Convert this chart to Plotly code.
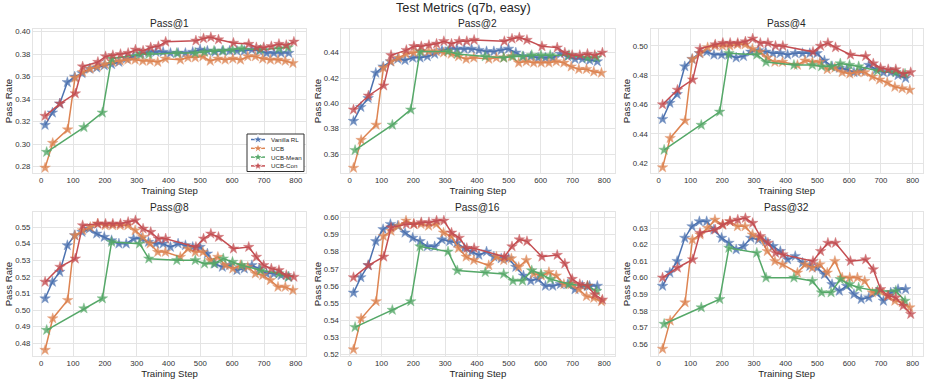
import plotly.graph_objects as go

# ---------------- data ----------------
steps_vanilla = [12, 35, 58, 82, 105, 128, 151, 174, 198, 221, 244, 267, 290, 314, 337, 360, 383,
                 406, 430, 453, 476, 499, 522, 546, 569, 592, 615, 638, 662, 685, 708, 731, 754, 778]
steps_ucb = [12, 36, 83, 106, 130, 154, 177, 201, 224, 248, 272, 295, 319, 342, 366, 390,
             437, 461, 484, 508, 531, 555, 578, 602, 626, 649, 673, 696, 720, 744, 767, 791]
steps_mean = [17, 134, 192, 221, 309, 338, 426, 484, 513, 543, 572, 601, 630, 689, 747, 776]
steps_con = [12, 59, 107, 130, 178, 202, 225, 249, 273, 296, 320, 344, 368, 391,
             486, 510, 533, 557, 604, 652, 676, 699, 723, 747, 770, 794]

# Pass@1
p1_vanilla = [0.317, 0.328, 0.336, 0.355, 0.360, 0.363, 0.367, 0.368, 0.370, 0.371, 0.373, 0.376, 0.378, 0.380,
              0.382, 0.382, 0.382, 0.381, 0.381, 0.381, 0.382, 0.384, 0.383, 0.382, 0.383, 0.383, 0.383, 0.383,
              0.384, 0.383, 0.381, 0.381, 0.381, 0.381]
p1_ucb = [0.279, 0.301, 0.313, 0.359, 0.364, 0.367, 0.369, 0.371, 0.373, 0.374, 0.375, 0.375, 0.374, 0.374, 0.373,
          0.376, 0.375, 0.377, 0.377, 0.378, 0.374, 0.376, 0.375, 0.376, 0.375, 0.378, 0.378, 0.376, 0.375, 0.375,
          0.374, 0.372]
p1_mean = [0.293, 0.315, 0.328, 0.376, 0.380, 0.380, 0.381, 0.381, 0.382, 0.383, 0.383, 0.384, 0.385, 0.384,
           0.385, 0.386]
p1_con = [0.325, 0.336, 0.345, 0.369, 0.373, 0.378, 0.379, 0.380, 0.381, 0.384, 0.383, 0.386, 0.387, 0.391,
          0.392, 0.394, 0.395, 0.393, 0.390, 0.389, 0.386, 0.386, 0.387, 0.389, 0.388, 0.391]

# Pass@2
p2_vanilla = [0.386, 0.397, 0.404, 0.424, 0.429, 0.433, 0.435, 0.434, 0.436, 0.436, 0.437, 0.439, 0.442, 0.443,
              0.443, 0.443, 0.443, 0.442, 0.441, 0.441, 0.442, 0.443, 0.440, 0.437, 0.437, 0.436, 0.436, 0.436,
              0.439, 0.437, 0.435, 0.435, 0.434, 0.433]
p2_ucb = [0.349, 0.371, 0.383, 0.428, 0.433, 0.436, 0.439, 0.440, 0.441, 0.441, 0.441, 0.440, 0.439, 0.437, 0.435,
          0.436, 0.435, 0.436, 0.436, 0.437, 0.432, 0.433, 0.432, 0.432, 0.432, 0.433, 0.432, 0.429, 0.427, 0.427,
          0.425, 0.424]
p2_mean = [0.363, 0.383, 0.395, 0.441, 0.441, 0.439, 0.437, 0.436, 0.437, 0.437, 0.438, 0.438, 0.438, 0.438,
           0.436, 0.436]
p2_con = [0.395, 0.406, 0.414, 0.438, 0.442, 0.445, 0.445, 0.446, 0.447, 0.449, 0.447, 0.449, 0.449, 0.450,
          0.449, 0.451, 0.452, 0.450, 0.445, 0.444, 0.440, 0.438, 0.438, 0.439, 0.438, 0.440]

# Pass@4
p4_vanilla = [0.450, 0.461, 0.467, 0.486, 0.491, 0.495, 0.496, 0.494, 0.494, 0.494, 0.492, 0.493, 0.496, 0.497,
              0.496, 0.495, 0.495, 0.494, 0.495, 0.495, 0.495, 0.495, 0.490, 0.486, 0.485, 0.484, 0.482, 0.483,
              0.487, 0.484, 0.482, 0.482, 0.480, 0.478]
p4_ucb = [0.417, 0.437, 0.449, 0.491, 0.495, 0.499, 0.500, 0.500, 0.500, 0.501, 0.501, 0.498, 0.496, 0.492, 0.489,
          0.489, 0.487, 0.490, 0.489, 0.489, 0.484, 0.485, 0.482, 0.481, 0.482, 0.482, 0.479, 0.477, 0.475, 0.472,
          0.471, 0.470]
p4_mean = [0.429, 0.446, 0.455, 0.495, 0.494, 0.489, 0.487, 0.487, 0.486, 0.486, 0.488, 0.487, 0.486, 0.483,
           0.482, 0.481]
p4_con = [0.460, 0.470, 0.477, 0.498, 0.501, 0.502, 0.502, 0.502, 0.503, 0.505, 0.502, 0.502, 0.500, 0.500,
          0.496, 0.500, 0.502, 0.499, 0.494, 0.493, 0.488, 0.485, 0.484, 0.484, 0.481, 0.482]

# Pass@8
p8_vanilla = [0.507, 0.517, 0.523, 0.539, 0.545, 0.547, 0.549, 0.546, 0.544, 0.542, 0.540, 0.540, 0.543, 0.543,
              0.541, 0.540, 0.540, 0.538, 0.540, 0.539, 0.538, 0.538, 0.534, 0.528, 0.526, 0.527, 0.524, 0.525,
              0.527, 0.525, 0.522, 0.522, 0.521, 0.520]
p8_ucb = [0.476, 0.495, 0.506, 0.545, 0.548, 0.550, 0.552, 0.551, 0.551, 0.551, 0.551, 0.548, 0.544, 0.540, 0.535,
          0.535, 0.532, 0.537, 0.535, 0.535, 0.530, 0.532, 0.527, 0.525, 0.527, 0.526, 0.522, 0.521, 0.518, 0.514,
          0.514, 0.512]
p8_mean = [0.488, 0.501, 0.507, 0.541, 0.540, 0.531, 0.530, 0.530, 0.528, 0.528, 0.531, 0.529, 0.527, 0.524,
           0.522, 0.520]
p8_con = [0.517, 0.526, 0.531, 0.551, 0.552, 0.552, 0.552, 0.552, 0.553, 0.554, 0.549, 0.547, 0.543, 0.543,
          0.538, 0.543, 0.546, 0.544, 0.537, 0.538, 0.532, 0.527, 0.525, 0.524, 0.521, 0.520]

# Pass@16
p16_vanilla = [0.556, 0.565, 0.572, 0.586, 0.593, 0.596, 0.595, 0.591, 0.588, 0.586, 0.583, 0.583, 0.587, 0.586,
               0.585, 0.582, 0.580, 0.578, 0.580, 0.577, 0.576, 0.576, 0.571, 0.566, 0.563, 0.564, 0.560, 0.560,
               0.561, 0.561, 0.558, 0.560, 0.560, 0.560]
p16_ucb = [0.523, 0.541, 0.551, 0.589, 0.592, 0.595, 0.598, 0.596, 0.596, 0.595, 0.596, 0.591, 0.589, 0.582,
           0.577, 0.575, 0.572, 0.577, 0.575, 0.576, 0.571, 0.575, 0.567, 0.566, 0.568, 0.566, 0.561, 0.561, 0.558,
           0.554, 0.553, 0.551]
p16_mean = [0.536, 0.546, 0.551, 0.583, 0.580, 0.569, 0.568, 0.567, 0.563, 0.563, 0.569, 0.567, 0.564, 0.561,
            0.560, 0.557]
p16_con = [0.565, 0.572, 0.577, 0.594, 0.596, 0.596, 0.597, 0.597, 0.598, 0.598, 0.591, 0.588, 0.582, 0.582,
           0.577, 0.583, 0.587, 0.586, 0.577, 0.578, 0.573, 0.564, 0.561, 0.560, 0.555, 0.552]

# Pass@32
p32_vanilla = [0.595, 0.603, 0.610, 0.624, 0.631, 0.634, 0.634, 0.629, 0.624, 0.621, 0.617, 0.619, 0.624, 0.623,
               0.622, 0.619, 0.616, 0.611, 0.613, 0.609, 0.607, 0.606, 0.602, 0.596, 0.592, 0.595, 0.590, 0.587,
               0.588, 0.591, 0.586, 0.591, 0.593, 0.593]
p32_ucb = [0.557, 0.574, 0.585, 0.623, 0.626, 0.630, 0.635, 0.632, 0.634, 0.631, 0.631, 0.626, 0.624, 0.616,
           0.610, 0.608, 0.603, 0.608, 0.606, 0.608, 0.603, 0.610, 0.600, 0.600, 0.600, 0.598, 0.591, 0.592, 0.589,
           0.586, 0.585, 0.582]
p32_mean = [0.572, 0.582, 0.587, 0.618, 0.615, 0.600, 0.600, 0.598, 0.591, 0.591, 0.599, 0.596, 0.594, 0.592,
            0.592, 0.586]
p32_con = [0.600, 0.606, 0.611, 0.627, 0.629, 0.632, 0.634, 0.635, 0.636, 0.633, 0.625, 0.621, 0.615, 0.614,
           0.610, 0.616, 0.621, 0.621, 0.610, 0.611, 0.605, 0.593, 0.589, 0.588, 0.583, 0.578]

panel_titles = ["Pass@1", "Pass@2", "Pass@4", "Pass@8", "Pass@16", "Pass@32"]
method_names = ["Vanilla RL", "UCB", "UCB-Mean", "UCB-Con"]
x_ticks = [0, 100, 200, 300, 400, 500, 600, 700, 800]

# ---------------- styling ----------------
W, H = 927, 382
colors = ["#4C72B0", "#DD8452", "#55A868", "#C44E52"]
FONT = "Liberation Sans, Arial, sans-serif"
TXT = "#262626"

panels = [
    (p1_vanilla, p1_ucb, p1_mean, p1_con),
    (p2_vanilla, p2_ucb, p2_mean, p2_con),
    (p4_vanilla, p4_ucb, p4_mean, p4_con),
    (p8_vanilla, p8_ucb, p8_mean, p8_con),
    (p16_vanilla, p16_ucb, p16_mean, p16_con),
    (p32_vanilla, p32_ucb, p32_mean, p32_con),
]
steps_all = [steps_vanilla, steps_ucb, steps_mean, steps_con]

# pixel layout of plot areas (left, right) / (top, bottom)
cols_px = [(33, 306), (341.4, 614.5), (650.5, 922.8)]
rows_px = [(29, 173), (212.3, 356)]
y_ranges = [(0.2744, 0.4024), (0.3450, 0.4587), (0.4132, 0.5116),
            (0.4724, 0.5589), (0.5192, 0.6029), (0.5527, 0.6395)]
y_dticks = [0.02, 0.02, 0.02, 0.01, 0.01, 0.01]
GRID = "#e4e4e4"

fig = go.Figure()
layout = dict(width=W, height=H, margin=dict(l=0, r=0, t=0, b=0),
              plot_bgcolor="white", paper_bgcolor="white",
              font=dict(family=FONT, color=TXT), showlegend=False)
annotations = []

for i, vals in enumerate(panels):
    r, c = divmod(i, 3)
    xa = "x" if i == 0 else f"x{i+1}"
    ya = "y" if i == 0 else f"y{i+1}"
    xkey = "xaxis" if i == 0 else f"xaxis{i+1}"
    ykey = "yaxis" if i == 0 else f"yaxis{i+1}"
    l, rr = cols_px[c]
    t, b = rows_px[r]
    layout[xkey] = dict(domain=[l / W, rr / W], anchor=ya, range=[-26, 832],
                        tickvals=x_ticks, showgrid=True, gridcolor=GRID, gridwidth=1,
                        showline=True, linecolor=GRID, linewidth=1, mirror=True,
                        zeroline=False, ticks="", tickfont=dict(size=7.8, color="#333333"),
                        title=dict(text="Training Step", font=dict(size=9.6, color=TXT), standoff=2),
                        automargin=False)
    layout[ykey] = dict(domain=[1 - b / H, 1 - t / H], anchor=xa, range=list(y_ranges[i]),
                        dtick=y_dticks[i], tick0=0, tickformat=".2f",
                        showgrid=True, gridcolor=GRID, gridwidth=1,
                        showline=True, linecolor=GRID, linewidth=1, mirror=True,
                        zeroline=False, ticks="", tickfont=dict(size=7.8, color="#333333"),
                        title=dict(text="Pass Rate", font=dict(size=9.6, color=TXT), standoff=0),
                        automargin=False)
    annotations.append(dict(text=panel_titles[i], x=(l + rr) / 2 / W, y=1 - (t - 5) / H,
                            xref="paper", yref="paper", xanchor="center", yanchor="middle",
                            showarrow=False, font=dict(size=10.2, color=TXT)))
    for m in range(4):
        fig.add_trace(go.Scatter(
            x=steps_all[m], y=vals[m], mode="lines+markers", name=method_names[m],
            line=dict(color=colors[m], width=1.5),
            marker=dict(symbol="star", size=8, color=colors[m], opacity=0.8,
                        line=dict(width=0.4, color=colors[m])),
            xaxis=xa, yaxis=ya, hoverinfo="skip"))

# main title
annotations.append(dict(text="Test Metrics (q7b, easy)", x=0.5, y=1 - 8.5 / H, xref="paper", yref="paper",
                        xanchor="center", yanchor="middle", showarrow=False,
                        font=dict(size=12.7, color=TXT)))

# ---- custom compact legend inside the Pass@1 panel (pixel-space overlay axes) ----
lx0, lx1, ly0, ly1 = 247, 304, 134, 171.5
leg_rows = [139.5, 148.3, 157.1, 165.9]
layout["xaxis7"] = dict(overlaying="x", anchor="y7", range=[cols_px[0][0], cols_px[0][1]],
                        visible=False, fixedrange=True)
layout["yaxis7"] = dict(overlaying="y", anchor="x7", range=[rows_px[0][1], rows_px[0][0]],
                        visible=False, fixedrange=True)
# legend frame (white box with dark border) drawn as a filled trace
fig.add_trace(go.Scatter(x=[lx0, lx1, lx1, lx0, lx0], y=[ly0, ly0, ly1, ly1, ly0], mode="lines",
                         fill="toself", fillcolor="white", line=dict(color="#333333", width=1),
                         xaxis="x7", yaxis="y7", hoverinfo="skip"))
for m in range(4):
    yy = leg_rows[m]
    fig.add_trace(go.Scatter(x=[251, 258, 265], y=[yy, yy, yy], mode="lines+markers",
                             line=dict(color=colors[m], width=1.5),
                             marker=dict(symbol="star", size=[0, 7.5, 0], color=colors[m], opacity=0.85),
                             xaxis="x7", yaxis="y7", hoverinfo="skip"))
    annotations.append(dict(text=method_names[m], x=268.5, y=yy, xref="x7", yref="y7",
                            xanchor="left", yanchor="middle", showarrow=False,
                            font=dict(size=6.2, color=TXT)))

layout["annotations"] = annotations
fig.update_layout(**layout)
fig.write_html("out.html", config={"displayModeBar": False, "staticPlot": True},
               post_script="document.body.style.margin='0';document.body.style.overflow='hidden';")
